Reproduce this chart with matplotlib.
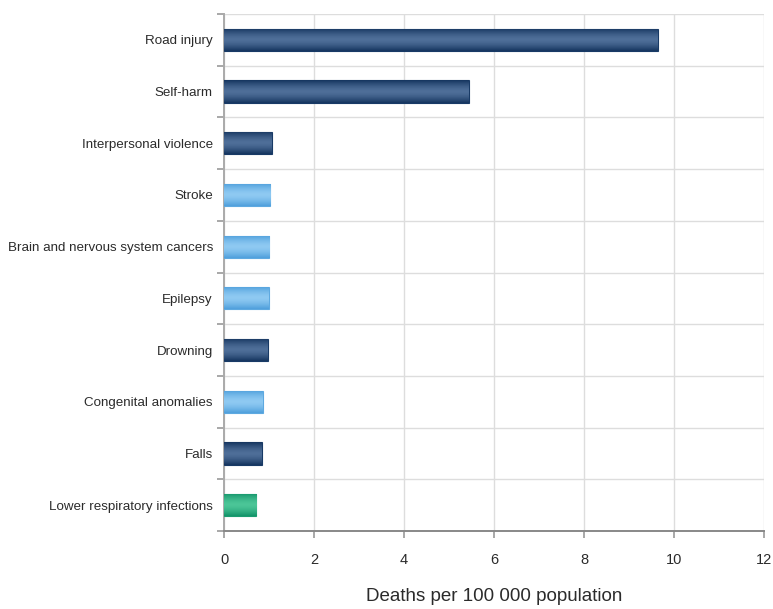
import numpy as np
import matplotlib
matplotlib.use('Agg')
import matplotlib.pyplot as plt
from matplotlib.colors import LinearSegmentedColormap
from matplotlib.ticker import MultipleLocator

plt.rcParams['font.family'] = ['Liberation Sans', 'DejaVu Sans']

# データ
causes = ['Road injury', 'Self-harm', 'Interpersonal violence', 'Stroke',
          'Brain and nervous system cancers', 'Epilepsy', 'Drowning',
          'Congenital anomalies', 'Falls', 'Lower respiratory infections']
deaths = [9.64, 5.44, 1.06, 1.03, 1.01, 0.99, 0.97, 0.86, 0.84, 0.72]
groups = ['inj', 'inj', 'inj', 'ncd', 'ncd', 'ncd', 'inj', 'ncd', 'inj', 'com']

# グループ毎の色 (端, 中央)
group_colors = {
    'inj': ('#15355f', '#4f6f99'),
    'ncd': ('#4f9fdc', '#8fcaf2'),
    'com': ('#13946a', '#4cc698'),
}
edge_colors = {'inj': '#183a66', 'ncd': '#5ea9e0', 'com': '#1b9c70'}

fig = plt.figure(figsize=(7.73, 6.09), dpi=100)
ax = fig.add_axes([0.2898, 0.128, 0.6986, 0.849])

n = len(causes)
y = np.arange(n)[::-1]
bar_h = 0.43
bars = ax.barh(y, deaths, height=bar_h, color='none', zorder=3)

# グラデーション塗り
grad = np.abs(np.linspace(-1, 1, 64)).reshape(-1, 1)
for b, g in zip(bars, groups):
    c_edge, c_mid = group_colors[g]
    cmap = LinearSegmentedColormap.from_list(g, [c_mid, c_edge])
    x0, y0 = b.get_x(), b.get_y()
    w, h = b.get_width(), b.get_height()
    im = ax.imshow(grad ** 1.5, cmap=cmap, aspect='auto', vmin=0, vmax=1,
                   extent=(x0, x0 + w, y0, y0 + h), zorder=3, interpolation='bilinear')
    im.set_clip_path(b)
    b.set_edgecolor(edge_colors[g])
    b.set_linewidth(0.8)

ax.set_xlim(0, 12)
ax.set_ylim(-0.5, n - 0.5)
ax.xaxis.set_major_locator(MultipleLocator(2))

# 区切り線 (カテゴリ境界)
ax.set_yticks(np.arange(n + 1) - 0.5)
ax.set_yticklabels([])
ax.set_yticks(y, labels=causes, minor=True)
ax.tick_params(axis='y', which='minor', length=0, pad=8, labelsize=9.6, labelcolor='#2b2b2b')
ax.tick_params(axis='y', which='major', length=5, color='#999999', width=1.2)
ax.tick_params(axis='x', length=5, color='#999999', width=1.2, pad=11,
               labelsize=10.5, labelcolor='#2b2b2b')

ax.grid(True, which='major', color='#dddddd', lw=1.0, zorder=0)
ax.set_axisbelow(True)

for s in ['top', 'right']:
    ax.spines[s].set_visible(False)
ax.spines['left'].set_color('#aaaaaa')
ax.spines['left'].set_linewidth(1.4)
ax.spines['bottom'].set_color('#888888')
ax.spines['bottom'].set_linewidth(1.4)

ax.set_xlabel('Deaths per 100 000 population', fontsize=13.5, color='#2b2b2b', labelpad=15)

fig.savefig('out.png', dpi=100)
